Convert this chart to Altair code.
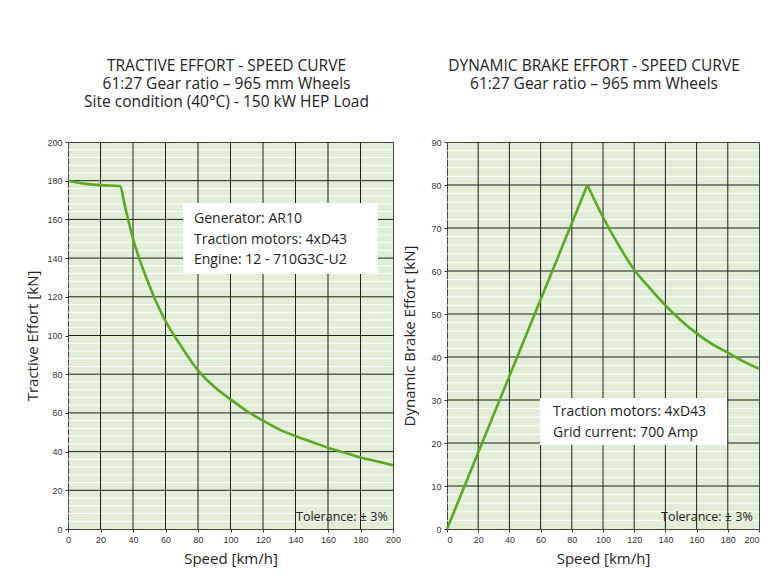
import altair as alt
import pandas as pd

# ---- data ----
te_speed = [0, 10, 20, 32, 35, 40, 45, 50, 55, 60, 70, 80, 90, 100, 110, 120, 130, 140, 150, 160, 170, 180, 190, 200]
te_force = [180, 178.5, 177.7, 177.3, 167, 150, 137, 126, 116, 107.5, 94, 82, 73.5, 67, 61, 56, 51.5, 48, 45, 42, 39.5, 37, 35, 33]

db_rise_speed = [0, 90]
db_rise_force = [0, 80]
db_fall_speed = [90, 100, 110, 120, 130, 140, 150, 160, 170, 180, 190, 200]
db_fall_force = [80, 72.5, 66, 60.3, 56, 52, 48.5, 45.5, 43, 41, 39, 37.3]

speed_ticks = list(range(0, 201, 20))
te_major = list(range(0, 201, 20))
te_minor = [v for v in range(0, 201, 4) if v % 20 != 0]
db_major = list(range(0, 91, 10))
db_minor = [v for v in range(0, 91, 2) if v % 10 != 0]

te_title = ["TRACTIVE EFFORT - SPEED CURVE", "61:27 Gear ratio \u2013 965 mm Wheels",
            "Site condition (40\u00b0C) - 150 kW HEP Load"]
db_title = ["DYNAMIC BRAKE EFFORT - SPEED CURVE", "61:27 Gear ratio \u2013 965 mm Wheels", " "]
te_note = ["Generator: AR10", "Traction motors: 4xD43", "Engine: 12 - 710G3C-U2"]
db_note = ["Traction motors: 4xD43", "Grid current: 700 Amp"]
tol_text = "Tolerance: \u00b1 3%"

GREEN = "#5aaa1f"
BODY_FONT = "Open Sans"
W_L, W_R, H = 325, 312, 387

AX = dict(grid=False, domain=False, labelFont="Liberation Sans", labelFontSize=9, labelColor="#333",
          tickColor="#333", tickSize=3, labelPadding=3, titleFont=BODY_FONT, titleFontSize=15,
          titleFontWeight="normal", titleColor="#222")


def panel(title, width, ymax, major, minor, ylab, lines, note, box, note_x, note_y0, tol_x,
          title_pad, flush, title_dx):
    xs = alt.Scale(domain=[0, 200], nice=False, zero=False)
    ys = alt.Scale(domain=[0, ymax], nice=False)
    xax = alt.Axis(values=speed_ticks, title="Speed [km/h]", titlePadding=7, labelFlush=flush, **AX)
    yax = alt.Axis(values=major, title=ylab, titlePadding=title_pad, **AX)

    minor_df = pd.DataFrame({"v": minor})
    vmaj_df = pd.DataFrame({"v": speed_ticks[1:-1]})
    hmaj_df = pd.DataFrame({"v": major[1:-1]})

    white = alt.Chart(minor_df).mark_rule(color="white", strokeWidth=1).encode(
        y=alt.Y("v:Q", scale=ys, axis=yax))
    vblack = alt.Chart(vmaj_df).mark_rule(color="#1e1e1e", strokeWidth=1).encode(
        x=alt.X("v:Q", scale=xs, axis=xax))
    hblack = alt.Chart(hmaj_df).mark_rule(color="#1e1e1e", strokeWidth=1).encode(
        y=alt.Y("v:Q", scale=ys, axis=yax))

    layers = [white, vblack, hblack]
    for interp, (sx, fy) in lines:
        df = pd.DataFrame({"s": sx, "f": fy})
        layers.append(alt.Chart(df).mark_line(color=GREEN, strokeWidth=2.6, interpolate=interp).encode(
            x=alt.X("s:Q", scale=xs, axis=xax), y=alt.Y("f:Q", scale=ys, axis=yax)))

    bx0, by0, bx1, by1 = box
    one = pd.DataFrame({"a": [0]})
    layers.append(alt.Chart(one).mark_rect(color="white").encode(
        x=alt.value(bx0), x2=alt.value(bx1), y=alt.value(by0), y2=alt.value(by1)))
    for i, t in enumerate(note):
        layers.append(alt.Chart(pd.DataFrame({"t": [t]})).mark_text(
            align="left", baseline="middle", font=BODY_FONT, fontSize=14, color="#222").encode(
            text="t:N", x=alt.value(note_x), y=alt.value(note_y0 + 20.5 * i)))
    layers.append(alt.Chart(pd.DataFrame({"t": [tol_text]})).mark_text(
        align="left", baseline="middle", font=BODY_FONT, fontSize=12.5, color="#222").encode(
        text="t:N", x=alt.value(tol_x), y=alt.value(375)))

    return alt.layer(*layers).properties(
        width=width, height=H,
        title=alt.TitleParams(text=title, fontSize=15.5, font=BODY_FONT, fontWeight="normal",
                              color="#222", anchor="middle", lineHeight=18, offset=28, dx=title_dx))


left = panel(te_title, W_L, 200, te_major, te_minor, "Tractive Effort [kN]",
             [("monotone", (te_speed, te_force))], te_note, (115, 61, 310, 132), 126, 77, 228,
             6, False, -4)
right = panel(db_title, W_R, 90, db_major, db_minor, "Dynamic Brake Effort [kN]",
              [("linear", (db_rise_speed, db_rise_force)), ("monotone", (db_fall_speed, db_fall_force))],
              db_note, (93, 256, 280, 303), 106, 270, 214, 13, True, -9)

chart = alt.hconcat(left, right, spacing=0).properties(
    padding={"left": 17, "top": 50, "right": 0, "bottom": 0}
).configure_view(fill="#e1edd6", stroke="#444", strokeWidth=1)

chart.save("out.html", embed_options={"renderer": "svg", "actions": False})
